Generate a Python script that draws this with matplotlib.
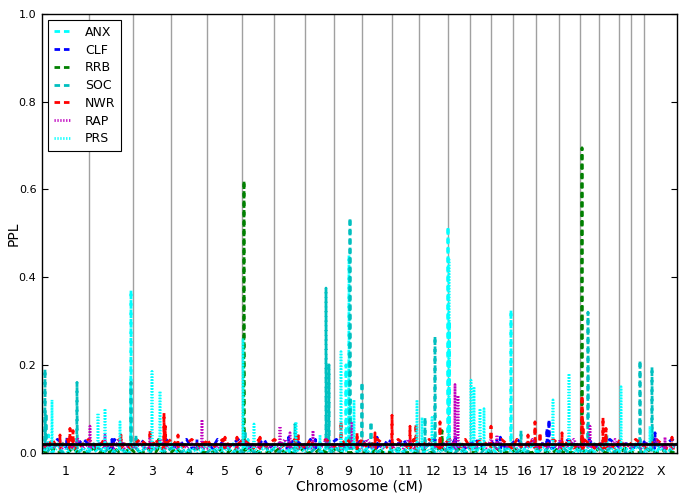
import numpy as np
import matplotlib
matplotlib.use("Agg")
import matplotlib.pyplot as plt

# ---------------- data ----------------
chrom_names = ["1", "2", "3", "4", "5", "6", "7", "8", "9", "10", "11", "12",
               "13", "14", "15", "16", "17", "18", "19", "20", "21", "22", "X"]
chrom_len_cm = [284, 264, 224, 220, 208, 194, 186, 170, 170, 178, 162, 176,
                134, 122, 136, 133, 139, 128, 116, 115, 72, 81, 198]

series_names = ["ANX", "CLF", "RRB", "SOC", "NWR", "RAP", "PRS"]

# background PPL along the genome, in hundredths, evenly spaced samples
ANX_low = "0102010021010201001020110102001021010200100201020101120010201101020010210102010020110201020100210201010200102011010200102101"
CLF_low = "2123212232122132212321223212312221321232122312212321322123212231221322312212322132123122321232212231223212312232122132221232"
RRB_low = "0010001000100010010001000010001000100100010000100010001001000100010001000010010001000100100010001000100010001000010001000100"
SOC_low = "1021012010210102012010210120101201021010201201021012010201021010201201021012010201021010201201021012010201021010201201021012"
NWR_low = "2131232123213123212321312321232131232123213123212321312321232131232123213123212321312321232131232123213123212321312321232131"
RAP_low = "1212121312121213121212131212121312121213121212131212121312121213121212131212121312121213121212131212121312121213121212131212"
PRS_low = "0101201010120101012010101201010120101012010101201010120101012010101201010120101012010101201010120101012010101201010120101012"

# peaks: genome-wide position (cM) and PPL
ANX_peak_cm = [40, 534, 1236, 1824, 1842, 1852, 2436, 2444, 2814, 3390, 3660]
ANX_peak_ppl = [0.04, 0.37, 0.03, 0.20, 0.45, 0.12, 0.515, 0.30, 0.325, 0.04, 0.05]

CLF_peak_cm = [150, 420, 930, 1480, 1640, 2010, 2480, 2750, 3030, 3042, 3660, 3678]
CLF_peak_ppl = [0.035, 0.03, 0.03, 0.035, 0.03, 0.035, 0.04, 0.035, 0.055, 0.075, 0.04, 0.045]

RRB_peak_cm = [700, 1212, 2400, 3240]
RRB_peak_ppl = [0.03, 0.62, 0.05, 0.695]

SOC_peak_cm = [18, 24, 210, 534, 564, 1218, 1518, 1704, 1722, 1848, 1920, 1974,
               2298, 2358, 2874, 3276, 3588, 3660]
SOC_peak_ppl = [0.19, 0.09, 0.16, 0.16, 0.04, 0.05, 0.065, 0.375, 0.20, 0.535, 0.16, 0.07,
                0.08, 0.265, 0.05, 0.32, 0.21, 0.195]

NWR_peak_cm = [108, 168, 186, 474, 648, 732, 740, 816, 966, 1098, 1170, 1308, 1536,
               1794, 1890, 1998, 2100, 2208, 2244, 2388, 2694, 2916, 2958, 2988,
               3120, 3240, 3246, 3366, 3384, 3780]
NWR_peak_ppl = [0.04, 0.055, 0.05, 0.04, 0.05, 0.09, 0.06, 0.04, 0.03, 0.035, 0.035, 0.035, 0.045,
                0.07, 0.045, 0.045, 0.085, 0.06, 0.065, 0.07, 0.06, 0.04, 0.07, 0.045,
                0.045, 0.13, 0.07, 0.08, 0.055, 0.035]

RAP_peak_cm = [288, 378, 648, 960, 1428, 1488, 1626, 1860, 2478, 2496, 2730, 3108, 3288, 3738]
RAP_peak_ppl = [0.06, 0.04, 0.035, 0.075, 0.06, 0.045, 0.05, 0.07, 0.155, 0.13, 0.04, 0.03, 0.06, 0.035]

PRS_peak_cm = [60, 336, 378, 468, 660, 708, 1206, 1272, 1524, 1668, 1794, 1872, 2250, 2280,
               2340, 2442, 2574, 2592, 2628, 2652, 3066, 3162, 3474, 3648]
PRS_peak_ppl = [0.12, 0.09, 0.10, 0.07, 0.185, 0.14, 0.26, 0.065, 0.07, 0.04, 0.23, 0.12, 0.12, 0.08,
                0.08, 0.44, 0.165, 0.15, 0.10, 0.10, 0.12, 0.18, 0.15, 0.06]

threshold = 0.02

# ---------------- drawing ----------------
bounds = np.concatenate([[0], np.cumsum(chrom_len_cm)])
total = bounds[-1]
centers = (bounds[:-1] + bounds[1:]) / 2


def trace(low_str, pk_cm, pk_ppl):
    low = np.array([int(c) for c in low_str]) / 100.0
    xs = list(np.linspace(0, total, len(low)))
    ys = list(low)
    for c, p in zip(pk_cm, pk_ppl):
        xs += [c - 1.5, c, c + 1.5]
        ys += [0.01, p, 0.01]
    order = np.argsort(xs, kind="stable")
    return np.asarray(xs)[order], np.asarray(ys)[order]


data = {
    "ANX": (ANX_low, ANX_peak_cm, ANX_peak_ppl),
    "CLF": (CLF_low, CLF_peak_cm, CLF_peak_ppl),
    "RRB": (RRB_low, RRB_peak_cm, RRB_peak_ppl),
    "SOC": (SOC_low, SOC_peak_cm, SOC_peak_ppl),
    "NWR": (NWR_low, NWR_peak_cm, NWR_peak_ppl),
    "RAP": (RAP_low, RAP_peak_cm, RAP_peak_ppl),
    "PRS": (PRS_low, PRS_peak_cm, PRS_peak_ppl),
}
dash = (0, (2.0, 1.4))
dot = (0, (0.45, 0.6))
styles = {
    "ANX": ("#00ffff", dash),
    "CLF": ("#0000ff", dash),
    "RRB": ("#008000", dash),
    "SOC": ("#00bfbf", dash),
    "NWR": ("#ff0000", dash),
    "RAP": ("#bf00bf", dot),
    "PRS": ("#00ffff", dot),
}

fig = plt.figure(figsize=(6.85, 4.98), dpi=100)
ax = fig.add_axes([42 / 685, 1 - 452.5 / 498, 635 / 685, 438.5 / 498])

for b in bounds[1:-1]:
    ax.axvline(b, color="#a0a0a0", lw=1.0, zorder=0)

for name in series_names:
    x, y = trace(*data[name])
    col, ls = styles[name]
    ax.plot(x, y, color=col, linestyle=ls, lw=2.0, label=name)

ax.axhline(threshold, color="black", lw=2, zorder=5)

ax.set_xlim(0, total)
ax.set_ylim(0, 1.0)
ax.set_xticks(centers)
ax.set_xticklabels(chrom_names, fontsize=9)
ax.tick_params(axis="x", length=0, pad=9)
ax.set_yticks(np.arange(0, 1.01, 0.2))
ax.set_yticklabels([f"{v:.1f}" for v in np.arange(0, 1.01, 0.2)], fontsize=8)
ax.tick_params(axis="y", direction="in", length=4, right=True, pad=4)
ax.set_xlabel("Chromosome (cM)", fontsize=10, labelpad=1)
ax.set_ylabel("PPL", fontsize=10)
ax.yaxis.label.set_va("center")
ax.yaxis.set_label_coords(-0.044, 0.5)
for s in ax.spines.values():
    s.set_linewidth(1.0)

leg = ax.legend(loc="upper left", fontsize=9, handlelength=1.3, handletextpad=1.2,
                labelspacing=0.38, borderpad=0.45, borderaxespad=0.5, fancybox=False,
                framealpha=1, edgecolor="black")
leg.get_frame().set_linewidth(0.8)

fig.savefig("out.png", dpi=100)
